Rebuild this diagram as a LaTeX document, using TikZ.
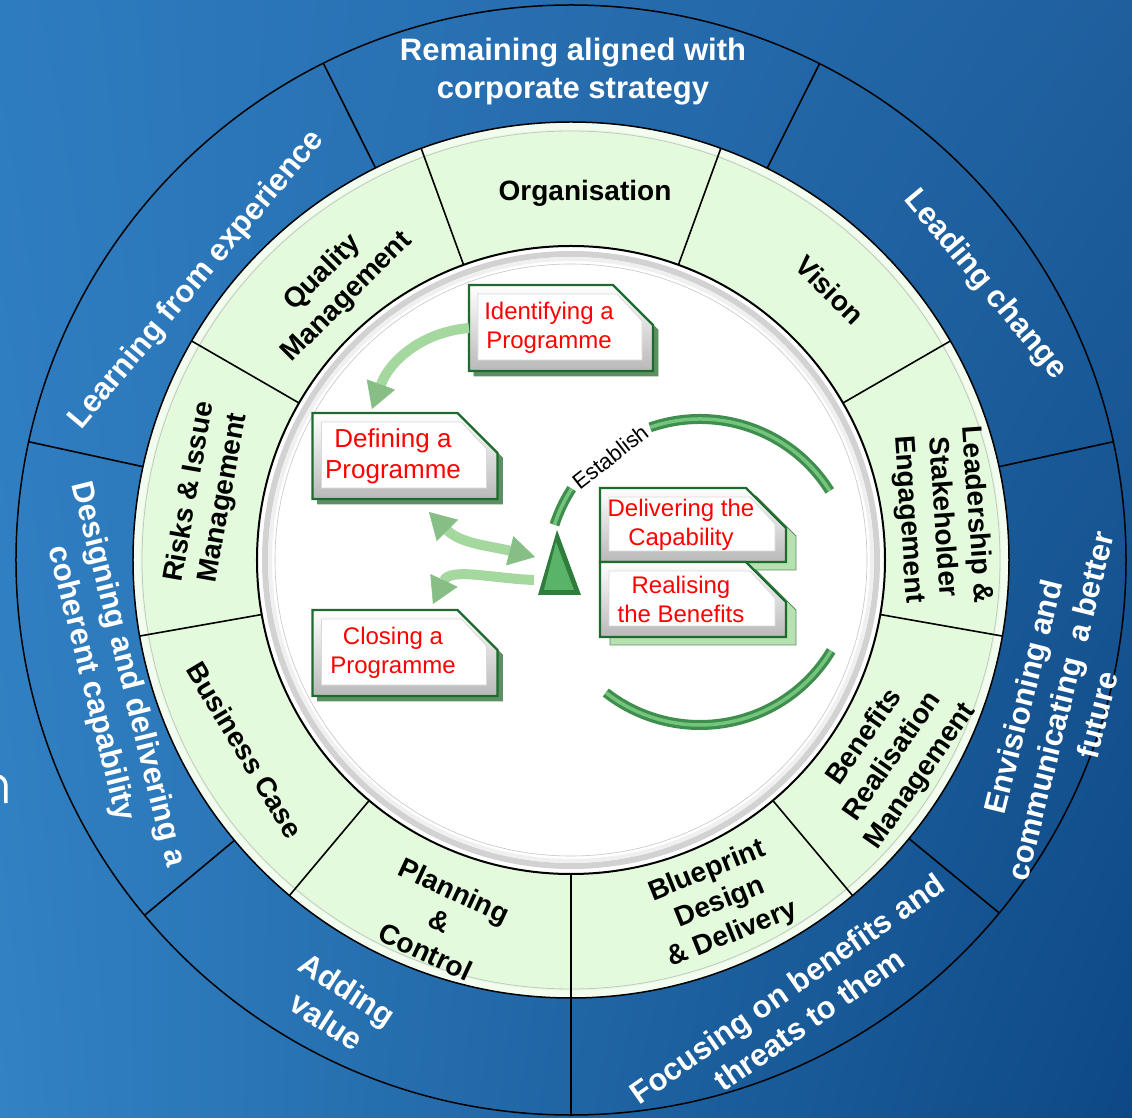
\documentclass[tikz,border=0pt]{standalone}
\usepackage{fontspec}
\setmainfont{Liberation Sans}
\usepackage{tikz}
\usetikzlibrary{positioning,calc,arrows.meta,shadings}

\pgfdeclarelayer{back}
\pgfsetlayers{back,main}

\definecolor{bgUL}{HTML}{2E7CC0}
\definecolor{bgUR}{HTML}{1F5F9E}
\definecolor{bgLL}{HTML}{3282C4}
\definecolor{bgLR}{HTML}{0D4884}
\definecolor{ringgreen}{HTML}{E3FBDC}
\definecolor{boxgreen}{HTML}{1E6B30}
\definecolor{shadowgreen}{HTML}{5E8F62}
\definecolor{palegreen}{HTML}{B6E2B0}
\definecolor{bandgreen}{HTML}{3F8E4E}
\definecolor{bandlight}{HTML}{73C47D}
\definecolor{arrowgreen}{HTML}{A4D89F}
\definecolor{tipgreen}{HTML}{86BE86}
\definecolor{tridark}{HTML}{2E7D3C}
\definecolor{trilight}{HTML}{5AB467}

\tikzset{
  outerlabel/.style={text=white, font=\bfseries\fontsize{31}{38}\selectfont, align=center},
  themelabel/.style={text=black, font=\bfseries\fontsize{28}{34}\selectfont, align=center},
  progbox/.style={inner sep=0pt, outer sep=0pt, minimum width=161pt, minimum height=86pt,
    text=red, align=center, font=\fontsize{24}{29}\selectfont},
  divider/.style={black, line width=1.6pt},
  band/.style={draw=bandgreen, line width=10pt, postaction={draw=bandlight, line width=3.5pt}},
  Flow/.tip={Triangle[length=26pt, width=30pt, line width=0.5pt, fill=tipgreen, color=tipgreen]},
  flowarrow/.style={draw=arrowgreen, line width=10pt, -{Flow}}
}

% chamfered outline of a programme box (text sits left of centre), shifted by (#2,#3)
\newcommand{\progpath}[3]{($(#1.south west)+(#2,#3)$) -- ($(#1.south east)+(#2+24,#3)$) -- ($(#1.north east)+(#2+24,#3-40)$) -- ($(#1.north east)+(#2-16,#3)$) -- ($(#1.north west)+(#2,#3)$) -- cycle}
\newcommand{\progshape}[4]{%
  \filldraw[fill=#2, draw=shadowgreen, line width=0.8pt] \progpath{#1}{#3}{#4};
  \fill[top color=white, bottom color=gray!55] \progpath{#1}{0}{0};
  \filldraw[fill=white, draw=gray!30, line width=0.8pt] ($(#1.south west)+(9,11)$) -- ($(#1.south east)+(13,11)$) -- ($(#1.north east)+(13,-36)$) -- ($(#1.north east)+(-12,-9)$) -- ($(#1.north west)+(9,-9)$) -- cycle;
  \draw[boxgreen, line width=2.2pt] \progpath{#1}{0}{0};
}

\begin{document}
\begin{tikzpicture}[x=1pt,y=1pt]
  \useasboundingbox (-571,-558) rectangle (561,560);

  \begin{pgfonlayer}{back}
    % backdrop
    \shade[upper left=bgUL, upper right=bgUR, lower left=bgLL, lower right=bgLR] (-571,-558) rectangle (561,560);
    \draw[white, line width=3.5pt] (-574,-216) to[out=0,in=90] (-565,-226) -- (-565,-243);
    % principles ring
    \draw[line width=1.5pt] (0,0) circle (555);
    \foreach \a in {12.3,63.4,116.5,167.7,219.8,270,320.5}
      \draw[divider] (\a:438) -- (\a:555);
    % themes ring
    \fill[ringgreen] (0,0) circle (438);
    \draw[white!55!ringgreen, line width=7pt] (0,0) circle (434);
    \draw[gray!45, line width=0.8pt] (0,0) circle (429);
    \draw[line width=1.5pt] (0,0) circle (438);
    \foreach \a in {30,70,...,350}
      \draw[divider] (\a:314) -- (\a:438);
    % process circle
    \fill[white] (0,0) circle (314);
    \draw[gray!35, line width=6pt] (0,0) circle (306);
    \draw[gray!12, line width=4pt] (0,0) circle (301);
    \draw[gray!45, line width=0.6pt] (0,0) circle (296);
    \draw[line width=2pt] (0,0) circle (314);
  \end{pgfonlayer}

  % principles
  \node[outerlabel] (pAlign) at (2,488) {Remaining aligned with\\corporate strategy};
  \node[outerlabel, rotate=50] (pLearn) at (-374,280) {Learning from experience};
  \node[outerlabel, rotate=-76] (pDesign) at (-462,-119) {Designing and delivering a\\coherent capability};
  \node[outerlabel, rotate=-33] (pValue) at (-234,-445) {Adding\\value};
  \node[outerlabel, rotate=35] (pFocus) at (227,-444) {Focusing on benefits and\\threats to them};
  \node[outerlabel, rotate=76] (pFuture) at (489,-146) {Envisioning and\\communicating~ a better\\future};
  \node[outerlabel, rotate=-50] (pLead) at (414,275) {Leading change};

  % themes
  \node[themelabel] (tOrg) at (14,367) {Organisation};
  \node[themelabel, rotate=-45] (tVision) at (259,270) {Vision};
  \node[themelabel, rotate=-86] (tLead) at (371,43) {Leadership \&\\Stakeholder\\Engagement};
  \node[themelabel, rotate=55] (tBenefit) at (322,-197) {Benefits\\Realisation\\Management};
  \node[themelabel, rotate=22] (tBlue) at (149,-343) {Blueprint\\Design\\\& Delivery};
  \node[themelabel, rotate=-25] (tPlan) at (-131,-361) {Planning\\\&\\Control};
  \node[themelabel, rotate=-59] (tCase) at (-326,-190) {Business Case};
  \node[themelabel, rotate=80] (tRisk) at (-364,65) {Risks \& Issue\\Management};
  \node[themelabel, rotate=45] (tQual) at (-236,275) {Quality\\Management};

  % processes
  \node[progbox, minimum width=160pt] (idp) at (-22,232) {Identifying a\\Programme};
  \node[progbox, font=\fontsize{26}{31}\selectfont] (dfp) at (-178,104) {Defining a\\Programme};
  \node[progbox] (clp) at (-178,-93) {Closing a\\Programme};
  \node[progbox, minimum width=162pt, minimum height=74pt] (dcp) at (110,35) {Delivering the\\Capability};
  \node[progbox, minimum width=162pt, minimum height=75pt, below=0pt of dcp] (rbp) {Realising\\the Benefits};

  \begin{pgfonlayer}{back}
    \progshape{idp}{shadowgreen}{5}{-5}
    \progshape{dfp}{shadowgreen}{5}{-5}
    \progshape{clp}{shadowgreen}{5}{-5}
    \progshape{dcp}{palegreen}{10}{-8}
    \progshape{rbp}{palegreen}{10}{-8}
  \end{pgfonlayer}

  % establish loop
  \coordinate (loopc) at (129,-12);
  \draw[band] ($(loopc)+(162:153)$) arc[start angle=162, end angle=147, radius=153];
  \draw[band] ($(loopc)+(109:153)$) arc[start angle=109, end angle=32, radius=153];
  \draw[band] ($(loopc)+(-31:153)$) arc[start angle=-31, end angle=-128, radius=153];
  \node[rotate=38, font=\fontsize{22}{26}\selectfont] (est) at ($(loopc)+(128:146)$) {Establish};

  % tranche triangle
  \coordinate (apex) at (-14,30);
  \fill[tridark] (apex) -- (-33,-35) -- (10,-35) -- cycle;
  \fill[trilight] (-15,18) -- (-27,-30) -- (3,-30) -- cycle;
  \coordinate (trileft1) at (-36,3);
  \coordinate (trileft2) at (-37,-20);

  % flows
  \draw[flowarrow] (idp.west) to[out=185,in=70] ($(dfp.north)+(-21,4)$);
  \draw[flowarrow, {Flow}-{Flow}] (trileft1) to[out=166,in=-45] ($(dfp.south)+(36,-13)$);
  \draw[flowarrow] (trileft2) to[out=178,in=65] ($(clp.north)+(40,6)$);
\end{tikzpicture}
\end{document}
